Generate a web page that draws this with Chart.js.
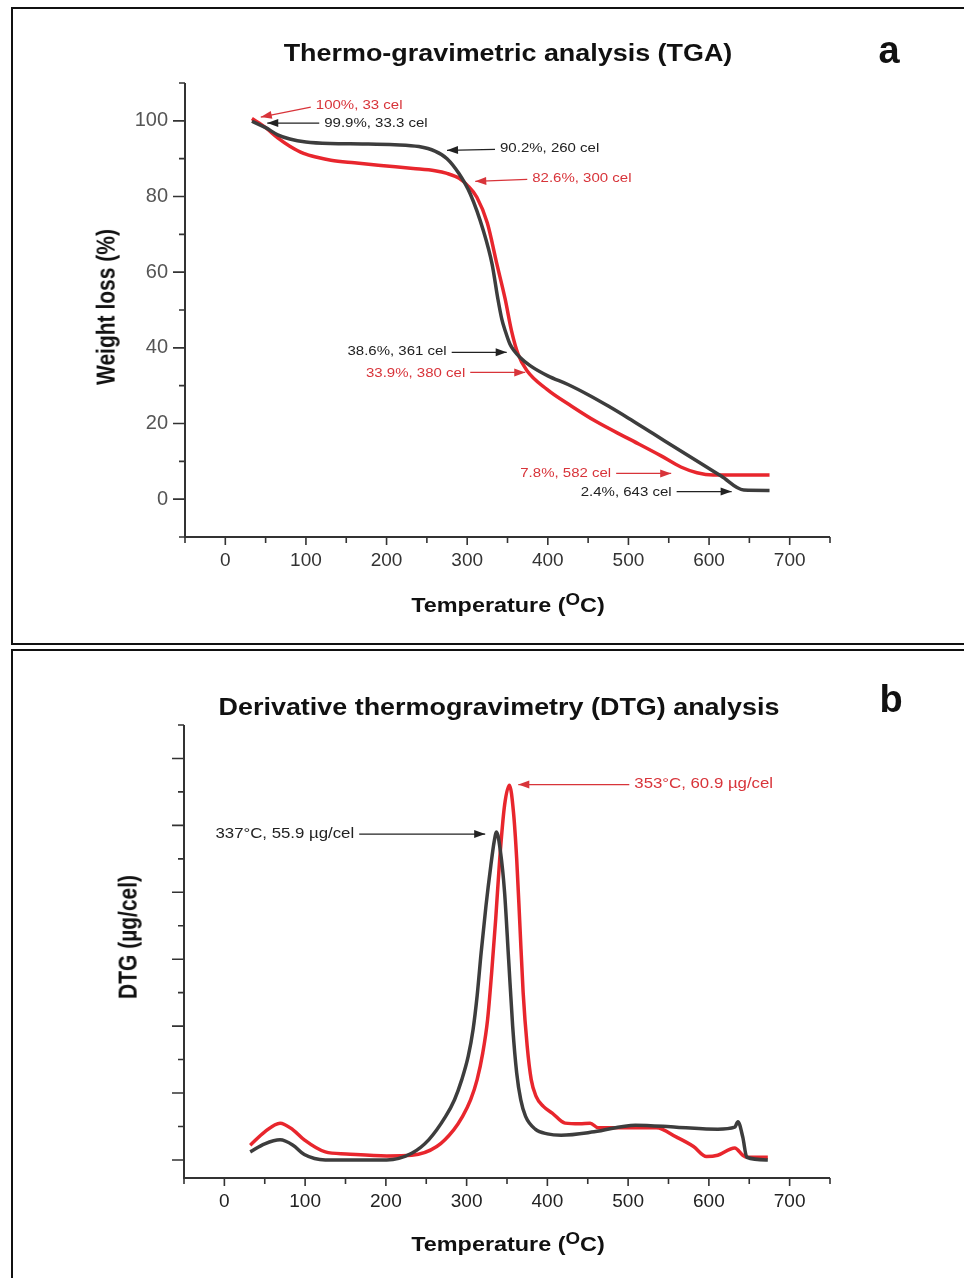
<!DOCTYPE html>
<html>
<head>
<meta charset="utf-8">
<script src="https://cdn.jsdelivr.net/npm/chart.js@4.4.0/dist/chart.umd.min.js"></script>
<style>
body { margin: 0; width: 964px; height: 1278px; overflow: hidden; background: #fff; position: relative; font-family: "Liberation Sans", Arial, sans-serif; }
.panel { position: absolute; left: 11px; width: 975px; border: 2px solid #111; box-sizing: border-box; }
#boxA { top: 7px; height: 638px; }
#boxB { top: 649px; height: 700px; }
canvas { position: absolute; left: 0; }
#tgaChart { top: 0; }
#dtgChart { top: 645px; }
.txt { position: absolute; white-space: nowrap; font-weight: bold; color: #111; transform: translate(-50%, -50%) scaleX(1.17); }
.ytitle { transform: translate(-50%, -50%) rotate(-90deg) scaleY(1.2); }
.sup { position: relative; top: -0.45em; font-size: 0.8em; }
</style>
</head>
<body>
<div class="panel" id="boxA"></div>
<div class="panel" id="boxB"></div>
<canvas id="tgaChart" width="964" height="645"></canvas>
<canvas id="dtgChart" width="964" height="633"></canvas>

<div class="txt" style="left:508px;top:53px;font-size:23px">Thermo-gravimetric analysis (TGA)</div>
<div class="txt" style="left:889px;top:50px;font-size:38px;transform:translate(-50%,-50%)">a</div>
<div class="txt ytitle" style="left:106px;top:307px;font-size:21px">Weight loss (%)</div>
<div class="txt" style="left:508px;top:605px;font-size:20px">Temperature (<span class="sup">O</span>C)</div>

<div class="txt" style="left:499px;top:707px;font-size:23px">Derivative thermogravimetry (DTG) analysis</div>
<div class="txt" style="left:891px;top:699px;font-size:38px;transform:translate(-50%,-50%)">b</div>
<div class="txt ytitle" style="left:128px;top:937px;font-size:21px">DTG (µg/cel)</div>
<div class="txt" style="left:508px;top:1244px;font-size:20px">Temperature (<span class="sup">O</span>C)</div>

<script>
// TGA curves (temperature in cel, weight in %)
const tgaTempBlack = [33, 50, 65, 80, 100, 130, 170, 210, 240, 260, 275, 290, 304, 320, 331, 338, 343, 347, 353, 358, 365, 378, 400, 425, 450, 475, 500, 530, 560, 590, 615, 643, 675];
const tgaWeightBlack = [99.9, 98.2, 96.3, 95.2, 94.4, 94.0, 93.9, 93.7, 93.2, 92.0, 90.0, 86.0, 80.6, 71, 62, 53, 47.5, 44.6, 41, 39.3, 37.6, 35.3, 32.6, 30.3, 27.6, 24.6, 21.4, 17.4, 13.4, 9.4, 6.1, 2.4, 2.3];
const tgaTempRed = [33, 50, 65, 80, 97, 115, 131, 160, 193, 233, 260, 275, 290, 300, 312, 325, 337, 347, 355, 363, 374, 399, 430, 460, 500, 540, 565, 585, 605, 675];
const tgaWeightRed = [100.6, 98.2, 95.5, 93.3, 91.4, 90.3, 89.6, 88.9, 88.2, 87.4, 86.8, 86.1, 84.8, 83, 79.8, 73, 62, 53, 44.5, 38.4, 34, 29, 24.5, 20.5, 16, 11.5, 8.5, 7, 6.4, 6.4];

// DTG curves (temperature in cel, rate in the picture's unlabelled units)
const dtgTempBlack = [32, 50, 69, 85, 99, 125, 160, 201, 232, 253, 274, 285, 294, 302, 308, 313, 318, 324, 330, 334, 337, 342, 347, 352, 357, 362, 367, 373, 385, 400, 417, 458, 509, 560, 611, 632, 636, 642, 647, 673];
const dtgRateBlack = [1.2, 2.4, 3.0, 2.2, 0.8, 0, 0, 0, 1.0, 3.0, 6.5, 9, 12, 15.5, 19.5, 24.5, 31, 38, 44, 47.5, 49, 46, 40, 30, 20, 13, 9, 6.5, 4.6, 3.9, 3.7, 4.2, 5.2, 4.9, 4.6, 4.9, 5.7, 3.4, 0.4, 0];
const dtgTempRed = [32, 50, 69, 85, 99, 125, 151, 201, 232, 263, 284, 295, 305, 313, 320, 326, 331, 336, 341, 347, 353, 358, 362, 366, 370, 375, 380, 386, 395, 406, 422, 440, 453, 463, 509, 535, 560, 581, 597, 611, 632, 642, 647, 673];
const dtgRateRed = [2.2, 4.2, 5.5, 4.5, 3.0, 1.2, 0.9, 0.6, 0.7, 2.0, 4.5, 6.5, 9, 12, 16, 21, 28, 36, 45, 53, 56, 52, 45, 35, 25, 17, 12, 9.5, 8, 7, 5.5, 5.4, 5.5, 4.8, 4.8, 4.8, 3.4, 2.0, 0.5, 0.7, 1.8, 0.7, 0.4, 0.4];

// tick labels
const tempTicks = [0, 100, 200, 300, 400, 500, 600, 700];
const weightTicks = [0, 20, 40, 60, 80, 100];

// callouts: text, which series (0 black, 1 red), and the point the arrow touches
const tgaNotes = ['100%, 33 cel', '99.9%, 33.3 cel', '90.2%, 260 cel', '82.6%, 300 cel', '38.6%, 361 cel', '33.9%, 380 cel', '7.8%, 582 cel', '2.4%, 643 cel'];
const tgaNoteSeries = [1, 0, 0, 1, 0, 1, 1, 0];
const tgaNoteTemp = [44, 52, 275, 310, 349, 372, 553, 628];
const tgaNoteWeight = [101.0, 99.4, 92.2, 84.0, 38.8, 33.5, 6.8, 2.0];

const dtgNotes = ['337°C, 55.9 µg/cel', '353°C, 60.9 µg/cel'];
const dtgNoteSeries = [0, 1];
const dtgNoteTemp = [323, 364];
const dtgNoteRate = [48.7, 56.1];

// arrow layout in pixels: [line dx, line dy, text dy]
const tgaNoteLayout = [[50, -10, -2], [52, 0, 0], [48, -1, -1], [52, -2, -1], [-55, 0, -1], [-55, 0, 1], [-55, 0, 0], [-55, 0, 1]];
const dtgNoteLayout = [[-126, 0, 0], [111, 0, 0]];

const FONT = '"Liberation Sans", Arial, sans-serif';
const lineColors = ['#3d3d3d', '#e8262d'];
const noteColors = ['#222222', '#d8343a'];

function isMultiple(v, m) {
    return Math.abs(v / m - Math.round(v / m)) < 1e-6;
}

function toPoints(xs, ys) {
    return xs.map((x, i) => ({ x: x, y: ys[i] }));
}

// axis lines with long major and short minor ticks, pointing outward
const axesPlugin = {
    id: 'axes',
    afterDraw(chart, args, opts) {
        const { ctx, chartArea: a, scales: { x, y } } = chart;
        ctx.save();
        ctx.strokeStyle = '#333';
        ctx.lineWidth = 2;
        ctx.beginPath();
        ctx.moveTo(a.left, a.top);
        ctx.lineTo(a.left, a.bottom);
        ctx.lineTo(a.right, a.bottom);
        ctx.stroke();

        ctx.lineWidth = 1.6;
        ctx.beginPath();
        y.ticks.forEach(t => {
            if (!isMultiple(t.value, opts.yMinor)) return;
            const len = isMultiple(t.value, opts.yMajor) ? 12 : 6;
            const py = y.getPixelForValue(t.value);
            ctx.moveTo(a.left, py);
            ctx.lineTo(a.left - len, py);
        });
        x.ticks.forEach(t => {
            if (!isMultiple(t.value, 50)) return;
            const len = isMultiple(t.value, 100) ? 8 : 6;
            const px = x.getPixelForValue(t.value);
            ctx.moveTo(px, a.bottom);
            ctx.lineTo(px, a.bottom + len);
        });
        ctx.stroke();
        ctx.restore();
    }
};

// arrows with text callouts
const arrowsPlugin = {
    id: 'arrows',
    afterDatasetsDraw(chart, args, opts) {
        const { ctx, scales: { x, y } } = chart;
        ctx.save();
        opts.texts.forEach((txt, i) => {
            const color = noteColors[opts.series[i]];
            const [ldx, ldy, tdy] = opts.layout[i];
            const tx = x.getPixelForValue(opts.xs[i]);
            const ty = y.getPixelForValue(opts.ys[i]);
            const ex = tx + ldx, ey = ty + ldy;

            ctx.strokeStyle = color;
            ctx.fillStyle = color;
            ctx.lineWidth = 1.3;
            ctx.beginPath();
            ctx.moveTo(ex, ey);
            ctx.lineTo(tx, ty);
            ctx.stroke();

            // arrow head
            const ang = Math.atan2(ty - ey, tx - ex);
            const hl = 11, hw = 4;
            ctx.beginPath();
            ctx.moveTo(tx, ty);
            ctx.lineTo(tx - hl * Math.cos(ang) + hw * Math.sin(ang), ty - hl * Math.sin(ang) - hw * Math.cos(ang));
            ctx.lineTo(tx - hl * Math.cos(ang) - hw * Math.sin(ang), ty - hl * Math.sin(ang) + hw * Math.cos(ang));
            ctx.closePath();
            ctx.fill();

            // label, slightly stretched like the original
            ctx.save();
            ctx.translate(ex + (ldx > 0 ? 5 : -5), ey + tdy);
            ctx.scale(1.2, 1);
            ctx.font = opts.size + 'px ' + FONT;
            ctx.textAlign = ldx > 0 ? 'left' : 'right';
            ctx.textBaseline = 'middle';
            ctx.fillText(txt, 0, 0);
            ctx.restore();
        });
        ctx.restore();
    }
};

function lineDataset(label, points, color) {
    return {
        label: label,
        data: points,
        borderColor: color,
        borderWidth: 3.5,
        pointRadius: 0,
        fill: false,
        cubicInterpolationMode: 'monotone'
    };
}

function tempAxis(labelColor) {
    return {
        type: 'linear',
        min: -50,
        max: 750,
        afterFit: s => { s.height = 40; },
        grid: { display: false, drawTicks: false },
        border: { display: false },
        ticks: {
            stepSize: 50,
            autoSkip: false,
            maxRotation: 0,
            padding: 12,
            color: labelColor,
            font: { family: FONT, size: 19 },
            callback: v => tempTicks.includes(v) ? String(v) : ''
        }
    };
}

function initTgaChart() {
    const ctx = document.getElementById('tgaChart').getContext('2d');
    new Chart(ctx, {
        type: 'line',
        data: {
            datasets: [
                lineDataset('Black', toPoints(tgaTempBlack, tgaWeightBlack), lineColors[0]),
                lineDataset('Red', toPoints(tgaTempRed, tgaWeightRed), lineColors[1])
            ]
        },
        options: {
            responsive: false,
            animation: false,
            events: [],
            layout: { padding: { left: 125, right: 134, top: 83, bottom: 68 } },
            plugins: {
                legend: { display: false },
                tooltip: { enabled: false },
                axes: { yMajor: 20, yMinor: 10 },
                arrows: { texts: tgaNotes, series: tgaNoteSeries, xs: tgaNoteTemp, ys: tgaNoteWeight, layout: tgaNoteLayout, size: 12.5 }
            },
            scales: {
                x: tempAxis('#333'),
                y: {
                    min: -10,
                    max: 110,
                    afterFit: s => { s.width = 60; },
                    grid: { display: false, drawTicks: false },
                    border: { display: false },
                    ticks: {
                        stepSize: 10,
                        padding: 17,
                        color: '#555',
                        font: { family: FONT, size: 20 },
                        callback: v => weightTicks.includes(v) ? String(v) : ''
                    }
                }
            }
        },
        plugins: [axesPlugin, arrowsPlugin]
    });
}

function initDtgChart() {
    const ctx = document.getElementById('dtgChart').getContext('2d');
    new Chart(ctx, {
        type: 'line',
        data: {
            datasets: [
                lineDataset('Black', toPoints(dtgTempBlack, dtgRateBlack), lineColors[0]),
                lineDataset('Red', toPoints(dtgTempRed, dtgRateRed), lineColors[1])
            ]
        },
        options: {
            responsive: false,
            animation: false,
            events: [],
            layout: { padding: { left: 124, right: 134, top: 80, bottom: 60 } },
            plugins: {
                legend: { display: false },
                tooltip: { enabled: false },
                axes: { yMajor: 10, yMinor: 5 },
                arrows: { texts: dtgNotes, series: dtgNoteSeries, xs: dtgNoteTemp, ys: dtgNoteRate, layout: dtgNoteLayout, size: 14 }
            },
            scales: {
                x: tempAxis('#222'),
                y: {
                    min: -2.7,
                    max: 65,
                    afterFit: s => { s.width = 60; },
                    grid: { display: false, drawTicks: false },
                    border: { display: false },
                    ticks: { stepSize: 5, callback: () => '' }
                }
            }
        },
        plugins: [axesPlugin, arrowsPlugin]
    });
}

initTgaChart();
initDtgChart();
</script>
</body>
</html>
